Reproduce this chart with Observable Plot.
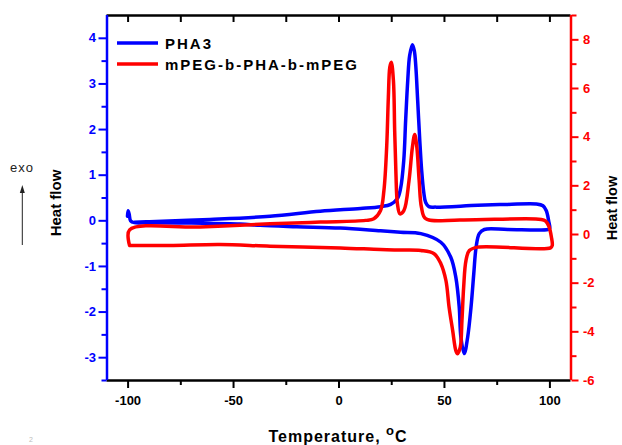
<!DOCTYPE html>
<html>
<head>
<meta charset="utf-8">
<script src="https://cdn.jsdelivr.net/npm/d3@7"></script>
<script src="https://cdn.jsdelivr.net/npm/@observablehq/plot@0.6"></script>
<style>
  html, body { margin: 0; padding: 0; background: #fff; }
  svg { display: block; }
</style>
</head>
<body>
<div id="chart"></div>
<script>
// ---- Data ----
// PHA3 (blue, left axis): temperature (°C) and heat flow
const phaT = [-100.3, -100.0, -99.5, -98.8, -97, -89.8, -70, -47, -37.4, -20, 0.6, 19.7, 29.2, 38.8, 48.3, 53.0, 55.4, 57.0, 57.8, 59.4, 61.0, 62.6, 63.9, 65.0, 66.5, 68.9, 80, 99.1, 99.9, 99.4, 98.3, 96.7, 93.5, 80, 65.8, 45.9, 42.6, 41.1, 40.2, 39.2, 38.3, 37.3, 36.4, 35.7, 34.8, 33.5, 32.6, 31.6, 30.7, 29.2, 27.7, 24.5, 19.7, 10.2, -8.9, -32.7, -61.2, -89.8, -97];
const phaV = [0.10, 0.22, 0.15, 0.0, -0.04, -0.04, -0.05, -0.07, -0.10, -0.13, -0.16, -0.22, -0.25, -0.28, -0.47, -0.80, -1.24, -1.89, -2.55, -2.91, -2.55, -1.89, -1.16, -0.58, -0.28, -0.19, -0.19, -0.19, -0.17, 0.0, 0.22, 0.33, 0.37, 0.36, 0.34, 0.30, 0.31, 0.40, 0.62, 1.10, 1.76, 2.64, 3.40, 3.73, 3.86, 3.62, 3.08, 2.20, 1.32, 0.71, 0.49, 0.36, 0.31, 0.27, 0.21, 0.10, 0.03, -0.02, -0.03];

// mPEG-b-PHA-b-mPEG (red, right axis): temperature (°C) and heat flow
const copT = [-99.3, -80.3, -56.5, -32.7, 0.7, 19.7, 29.2, 38.8, 45.1, 48.3, 50.7, 52.2, 53.9, 55.4, 56.2, 57.5, 58.3, 59.1, 60.2, 61.8, 65.8, 100.3, 101.1, 100.7, 99.5, 98.0, 95.9, 57.8, 41.1, 39.1, 38.0, 36.9, 35.9, 34.8, 33.2, 30.8, 28.9, 27.7, 27.0, 26.4, 25.8, 24.8, 24.1, 23.4, 22.6, 21.3, 19.7, 16.5, 12.6, -8.9, -32.6, -65.9, -99.3, -99.3];
const copV = [-0.45, -0.45, -0.41, -0.48, -0.55, -0.62, -0.64, -0.66, -0.79, -1.20, -1.89, -2.99, -3.95, -4.77, -4.90, -4.63, -3.53, -2.17, -1.07, -0.66, -0.52, -0.55, -0.45, -0.10, 0.34, 0.55, 0.62, 0.60, 0.65, 1.12, 2.22, 3.59, 4.11, 3.59, 2.22, 0.99, 0.85, 1.26, 2.49, 4.27, 6.33, 7.08, 6.88, 5.64, 3.59, 1.81, 0.99, 0.65, 0.58, 0.51, 0.44, 0.31, 0.19, -0.45];

// Axes
const xMajor = [-100, -50, 0, 50, 100];
const xMinor = [-75, -25, 25, 75];
const xTop = [-100, -75, -50, -25, 0, 25, 50, 75, 100];
const leftMajor = [-3, -2, -1, 0, 1, 2, 3, 4];
const leftMinor = [-3.5, -2.5, -1.5, -0.5, 0.5, 1.5, 2.5, 3.5];
const rightMajor = [-6, -4, -2, 0, 2, 4, 6, 8];
const rightMinor = [-5, -3, -1, 1, 3, 5, 7, 9];
const xDomain = [-110, 110];
const leftDomain = [-3.5, 4.5];
const rightDomain = [-6, 9];
const seriesNames = ["PHA3", "mPEG-b-PHA-b-mPEG"];
const seriesColors = ["#0000ff", "#ff0000"];

// map right-axis values onto the left-axis scale
const toLeft = r => leftDomain[0] + (r - rightDomain[0]) * (leftDomain[1] - leftDomain[0]) / (rightDomain[1] - rightDomain[0]);
const fromLeft = l => rightDomain[0] + (l - leftDomain[0]) * (rightDomain[1] - rightDomain[0]) / (leftDomain[1] - leftDomain[0]);

const pha = phaT.map((t, i) => ({t, v: phaV[i]}));
const cop = copT.map((t, i) => ({t, v: toLeft(copV[i])}));

const FONT = "'Liberation Sans', Arial, Helvetica, sans-serif";
const bold = {fontWeight: "bold", fontSize: 13, strokeWidth: 2, label: null};

const chart = Plot.plot({
  width: 622,
  height: 445,
  marginLeft: 106.5,
  marginRight: 51.5,
  marginTop: 15,
  marginBottom: 65,
  style: {fontFamily: FONT, background: "#fff", overflow: "visible"},
  x: {domain: xDomain, axis: null},
  y: {domain: leftDomain, axis: null},
  marks: [
    Plot.ruleY([leftDomain[0]], {stroke: "#000", strokeWidth: 2.5}),
    Plot.ruleY([leftDomain[1]], {stroke: "#000", strokeWidth: 2.5}),
    Plot.axisX(xMajor, {...bold, anchor: "bottom", color: "#000", tickSize: 8, tickPadding: 7, tickFormat: d => String(d), letterSpacing: 1}),
    Plot.axisX(xMinor, {...bold, anchor: "bottom", color: "#000", tickSize: 5, tickFormat: () => ""}),
    Plot.axisX(xTop, {...bold, anchor: "top", color: "#000", tickSize: -6, tickFormat: () => ""}),
    Plot.axisY(leftMajor, {...bold, anchor: "left", color: seriesColors[0], tickSize: 8, tickPadding: 3, tickFormat: d => String(d)}),
    Plot.axisY(leftMinor, {...bold, anchor: "left", color: seriesColors[0], tickSize: 5, tickFormat: () => ""}),
    Plot.axisY(rightMajor.map(toLeft), {...bold, anchor: "right", color: seriesColors[1], tickSize: 7, tickPadding: 5, tickFormat: d => String(Math.round(fromLeft(d)))}),
    Plot.axisY(rightMinor.map(toLeft), {...bold, anchor: "right", color: seriesColors[1], tickSize: 5, tickFormat: () => ""}),
    Plot.line(pha, {x: "t", y: "v", stroke: seriesColors[0], strokeWidth: 3.5, curve: "catmull-rom"}),
    Plot.line(cop, {x: "t", y: "v", stroke: seriesColors[1], strokeWidth: 3.5, curve: "catmull-rom"}),
    Plot.ruleX([xDomain[0]], {stroke: seriesColors[0], strokeWidth: 2.5}),
    Plot.ruleX([xDomain[1]], {stroke: seriesColors[1], strokeWidth: 2.5})
  ]
});

document.getElementById("chart").appendChild(chart);

// ---- annotations: legend, axis titles, exo arrow ----
const svg = d3.select(chart);
const g = svg.append("g").attr("font-family", FONT).attr("text-anchor", "start");

// legend
const legY = [43, 64];
seriesNames.forEach((name, i) => {
  g.append("line").attr("x1", 117).attr("x2", 158).attr("y1", legY[i]).attr("y2", legY[i])
    .attr("stroke", seriesColors[i]).attr("stroke-width", 3.5);
  g.append("text").attr("x", 165).attr("y", legY[i] + 5.5).attr("text-anchor", "start")
    .attr("font-size", 15).attr("font-weight", "bold")
    .attr("letter-spacing", 2).attr("fill", "#000").text(name);
});

// y titles
g.append("text").attr("transform", "translate(61,203) rotate(-90)").attr("text-anchor", "middle")
  .attr("font-size", 15).attr("font-weight", "bold").attr("fill", "#000").text("Heat flow");
g.append("text").attr("transform", "translate(617,208) rotate(-90)").attr("text-anchor", "middle")
  .attr("font-size", 14.5).attr("font-weight", "bold").attr("fill", "#000").text("Heat flow");

// x title with superscript o
const xt = g.append("text").attr("x", 338).attr("y", 442).attr("text-anchor", "middle")
  .attr("font-size", 16).attr("font-weight", "bold").attr("letter-spacing", 1).attr("fill", "#000");
xt.append("tspan").text("Temperature, ");
xt.append("tspan").attr("dy", -7).attr("font-size", 13).text("o");
xt.append("tspan").attr("dy", 7).text("C");

// exo arrow
g.append("text").attr("x", 22).attr("y", 172).attr("text-anchor", "middle").attr("font-size", 13)
  .attr("letter-spacing", 1).attr("fill", "#222").text("exo");
g.append("line").attr("x1", 22.3).attr("x2", 22.3).attr("y1", 245).attr("y2", 191)
  .attr("stroke", "#222").attr("stroke-width", 1);
g.append("path").attr("d", "M22.3,185 L19.8,193 L24.8,193 Z").attr("fill", "#222");

// faint small digit at bottom-left
g.append("text").attr("x", 31).attr("y", 442).attr("text-anchor", "middle").attr("font-size", 7)
  .attr("fill", "#bbb").text("2");
</script>
</body>
</html>
